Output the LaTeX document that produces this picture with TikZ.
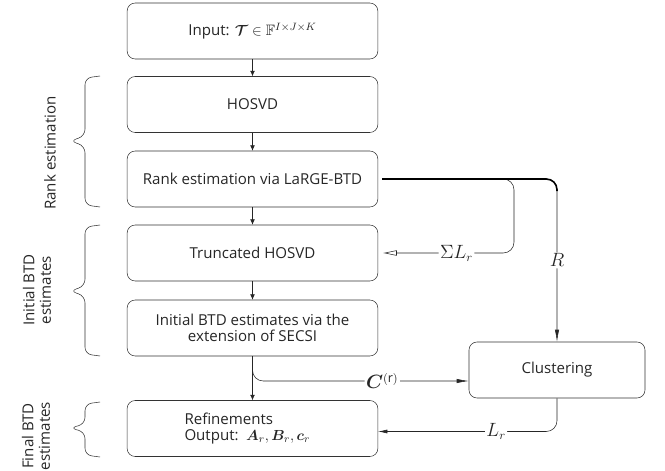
\documentclass[tikz,border=0pt]{standalone}
\usepackage{amsmath, amssymb, bm}
\usepackage{fontspec}
\setmainfont{Open Sans}
\usepackage{tikz}
\usetikzlibrary{arrows.meta, positioning, calc}

\begin{document}
\begin{tikzpicture}[x=0.75pt,y=-0.75pt,
  font=\fontsize{11.3}{12.5}\selectfont,
  box/.style={draw=black!80, rounded corners=6pt, minimum width=188pt, minimum height=42pt, text=black!85},
  arr/.style={-{Latex[length=4pt,width=3.5pt]}, black!85},
  longarr/.style={-{Latex[length=9pt,width=3.2pt]}, black!85},
  lbl/.style={fill=white, inner sep=1pt, font=\fontsize{13.5}{14}\selectfont},
  brc/.style={rounded corners=5pt, black!80}]
  \useasboundingbox (0,0) rectangle (665,471);

  \node[box] (input) at (252.5,31) {Input: $\bm{\mathcal{T}}\in\mathbb{F}^{I\times J\times K}$};
  \node[box] (hosvd) at (252.5,104.5) {HOSVD};
  \node[box] (rank) at (252.5,179) {Rank estimation via LaRGE-BTD};
  \node[box] (trunc) at (252.5,253) {Truncated HOSVD};
  \node[box, align=center] (init) at (252.5,328) {Initial BTD estimates via the\\extension of SECSI};
  \node[box, align=left, text width=102pt] (refine) at (252.5,428.5) {Refinements\\Output: $\bm{A}_r, \bm{B}_r, \bm{c}_r$};
  \node[box, minimum width=132pt] (clust) at (557,370) {Clustering};

  \draw[arr] (input) -- (hosvd);
  \draw[arr] (hosvd) -- (rank);
  \draw[arr] (rank) -- (trunc);
  \draw[arr] (trunc) -- (init);
  \draw[arr] (init) -- (refine);

  \coordinate (split) at (514,179);
  \coordinate (cin) at ($(clust.west)+(0,11)$);
  \coordinate (lin) at ($(refine.east)+(0,3)$);

  \draw[longarr, rounded corners=8pt, shorten <=3pt] (rank.east) -| node[lbl, pos=0.75]{$R$} (clust.north);
  \draw[-{Triangle[open,length=10pt,width=4pt]}, black!85, rounded corners=8pt, shorten <=3pt]
    (rank.east) -| (split |- trunc.east) -- node[lbl, pos=0.44]{$\Sigma L_r$} ([xshift=4pt]trunc.east);
  \draw[line width=1.2pt, rounded corners=8pt, shorten <=3pt] (rank.east) -| ($(clust.north |- rank.east)+(0,12)$);
  \draw[longarr, rounded corners=8pt] (init.south) |- node[lbl, pos=0.8]{$\bm{C}^{(\mathrm{r})}$} (cin);
  \draw[-{Latex[length=7pt,width=3pt]}, black!85, rounded corners=8pt] (clust.south) |- node[lbl, pos=0.67]{$L_r$} (lin);

  % braces
  \draw[brc] (100,76) -- (85,78) -- (85,136) -- (70,141) -- (85,146) -- (85,205) -- (100,207);
  \draw[brc] (100,225) -- (85,227) -- (85,286) -- (70,291) -- (85,296) -- (85,354) -- (100,356);
  \draw[brc] (100,402) -- (85,404) -- (85,424) -- (70,428) -- (85,432) -- (85,455) -- (100,457);

  \node[rotate=90, text=black!85] (lrank) at (50,153) {Rank estimation};
  \node[rotate=90, align=center, text=black!85] (linit) at (37,290) {Initial BTD\\estimates};
  \node[rotate=90, align=center, text=black!85] (lfinal) at (36,436) {Final BTD\\estimates};
\end{tikzpicture}
\end{document}
